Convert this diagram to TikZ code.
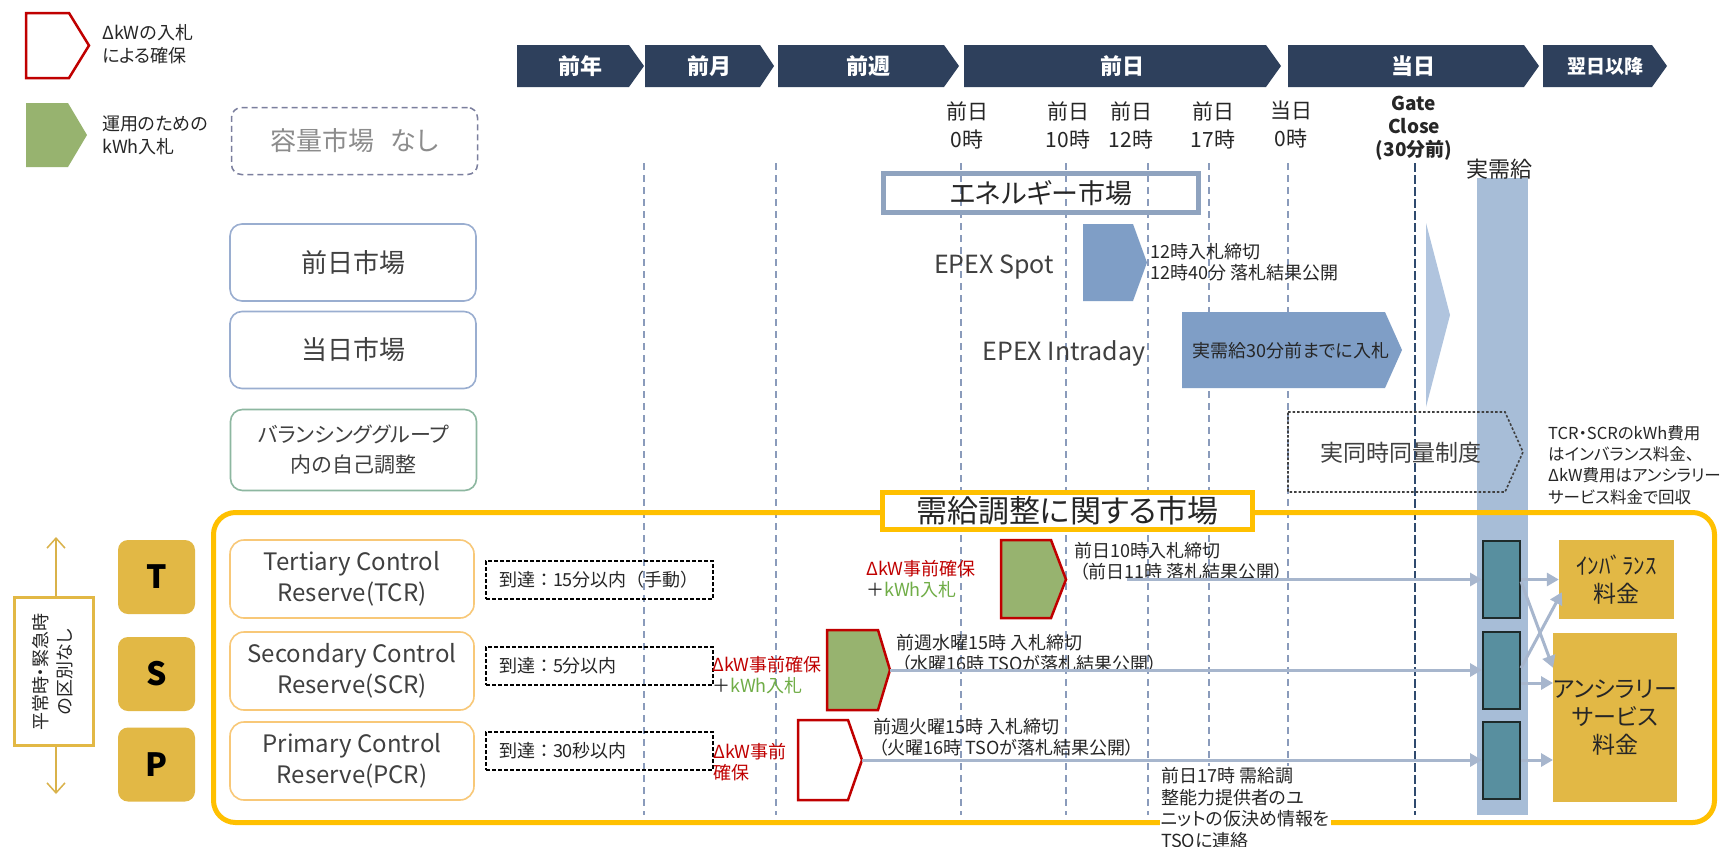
\documentclass[tikz,border=0pt]{standalone}
\usepackage{fontspec}
\setmainfont[RawFeature={+palt}]{Noto Sans CJK JP}
\newfontfamily\fullw{Noto Sans CJK JP}
\usetikzlibrary{arrows.meta,calc}
\definecolor{navy}{RGB}{46,64,92}
\definecolor{vdash}{RGB}{138,155,187}
\definecolor{gatec}{RGB}{47,74,110}
\definecolor{bandc}{RGB}{167,189,215}
\definecolor{enbord}{RGB}{143,163,191}
\definecolor{epexc}{RGB}{127,158,198}
\definecolor{lightarr}{RGB}{176,196,222}
\definecolor{ybig}{RGB}{255,192,0}
\definecolor{gold}{RGB}{226,184,69}
\definecolor{goldln}{RGB}{217,178,74}
\definecolor{tealc}{RGB}{88,143,159}
\definecolor{tealdk}{RGB}{30,43,43}
\definecolor{greenc}{RGB}{151,179,111}
\definecolor{redc}{RGB}{192,0,0}
\definecolor{resvor}{RGB}{248,200,120}
\definecolor{mktblue}{RGB}{154,174,208}
\definecolor{balg}{RGB}{141,183,160}
\definecolor{connc}{RGB}{167,182,205}
\definecolor{kwhgreen}{RGB}{112,173,71}
\definecolor{dashgray}{RGB}{123,127,158}
\definecolor{txtgray}{RGB}{64,64,64}
\definecolor{txtdark}{RGB}{38,38,38}
\definecolor{capgray}{RGB}{140,140,140}
\newcommand\fz[2]{\fontsize{#1pt}{#2pt}\selectfont}
\begin{document}
\begin{tikzpicture}[x=1pt,y=-1pt,
  every node/.style={inner sep=2pt,text=txtdark},
  vline/.style={draw=vdash,line width=1.3pt,dash pattern=on 7pt off 5pt},
  gateline/.style={draw=gatec,line width=2.6pt,dash pattern=on 9pt off 3pt},
  mkt/.style={draw=mktblue,line width=1.6pt,rounded corners=12pt,minimum width=246pt,minimum height=77pt,text=txtgray,font=\fz{26}{30}},
  resv/.style={draw=resvor,line width=1.6pt,rounded corners=14pt,minimum width=244pt,minimum height=78pt,align=center,text=txtgray,font=\fz{24}{31}},
  tsp/.style={fill=gold,rounded corners=10pt,minimum width=77pt,minimum height=74pt,font=\bfseries\fz{32}{34},text=black},
  reach/.style={draw=black,dash pattern=on 4pt off 2pt,line width=1.4pt,minimum width=227pt,minimum height=38pt,text width=201pt,inner xsep=13pt,align=left,font=\fullw\fz{18}{21}},
  tealbox/.style={fill=tealc,draw=tealdk,line width=2pt,minimum width=37pt,minimum height=77pt},
  charge/.style={fill=gold,align=center,font=\fz{23}{28},inner sep=0pt},
  conn/.style={draw=connc,line width=3pt,-{Triangle[length=12pt,width=13pt]}},
  small/.style={font=\fz{18}{21},align=left},
  ]
\useasboundingbox (0,0) rectangle (1720,846);
\fill[white] (0,0) rectangle (1720,846);

% band and vertical lines
\fill[bandc] (1477,178) rectangle (1528,815);
\node[font=\fz{22}{24}] (jjk) at (1499,169) {実需給};
\foreach \x in {644,776,961,1066,1148,1209,1288} \draw[vline] (\x,163) -- (\x,815);
\draw[gateline] (1415,163) -- (1415,815);

% timeline
\foreach \l/\s/\t/\lab/\sz [count=\i] in {517/629/644/前年/22,645/760/774/前月/22,778/944/959/前週/22,964/1266/1281/前日/22,1288/1524/1539/当日/22,1543/1652/1667/翌日以降/19} {
  \fill[navy] (\l,45) -- (\s,45) -- (\t,66) -- (\s,87) -- (\l,87) -- cycle;
  \node[font=\bfseries\fz{\sz}{\sz},text=white] (tl\i) at ({(\l+\t)/2},66) {\lab};
}
\node[font=\fz{21}{28},align=center] (h0) at (967,125) {前日\\0時};
\node[font=\fz{21}{28},align=center] (h10) at (1068,125) {前日\\10時};
\node[font=\fz{21}{28},align=center] (h12) at (1131,125) {前日\\12時};
\node[font=\fz{21}{28},align=center] (h17) at (1213,125) {前日\\17時};
\node[font=\fz{21}{28},align=center] (d0) at (1291,125) {当日\\0時};
\node[font=\bfseries\fz{19}{23},align=center] (gc) at (1414,128) {Gate\\Close\\(30分前)};

% legend
\draw[redc,line width=2.5pt] (26,13) -- (69,13) -- (89,45.5) -- (69,78) -- (26,78) -- cycle;
\fill[greenc] (26,103) -- (68,103) -- (87,135) -- (68,167) -- (26,167) -- cycle;
\node[anchor=west,align=left,font=\fz{18}{23}] (lg1) at (100,44) {ΔkWの入札\\による確保};
\node[anchor=west,align=left,font=\fz{18}{23}] (lg2) at (100,135) {運用のための\\kWh入札};
\node[draw=dashgray,line width=1.5pt,dash pattern=on 6pt off 4pt,rounded corners=10pt,minimum width=246pt,minimum height=67pt,text=capgray,font=\fz{26}{30}] (cap) at (354.5,141) {容量市場\hspace{0.6em}なし};

% left market boxes
\node[mkt] (dam) at (353,262.5) {前日市場};
\node[mkt] (idm) at (353,350) {当日市場};
\node[mkt,draw=balg,minimum height=81pt,align=center,font=\fz{21}{30}] (bg) at (353.5,450) {バランシンググループ\\内の自己調整};

% energy market
\draw[enbord,line width=5pt] (883.5,173.5) rectangle (1198.5,212.5);
\node[font=\fz{27}{30}] (enm) at (1041,193) {エネルギー市場};
\node[font=\fz{25}{28},text=txtgray] (eps) at (994,267) {EPEX Spot};
\fill[epexc] (1083,224) -- (1133,224) -- (1147,262.5) -- (1133,301) -- (1083,301) -- cycle;
\node[small,anchor=west] (epsn) at (1148,262) {12時入札締切\\12時40分 落札結果公開};
\node[font=\fz{25}{28},text=txtgray] (epi) at (1064,353) {EPEX Intraday};
\fill[epexc] (1182,312) -- (1385,312) -- (1402,350) -- (1385,388) -- (1182,388) -- cycle;
\node[font=\fz{18}{21}] (epin) at (1291,351) {実需給30分前までに入札};
\fill[lightarr] (1426,223) -- (1450,315) -- (1426,407) -- cycle;

% simultaneous balancing
\draw[txtgray,line width=1.6pt,dash pattern=on 2.5pt off 2pt] (1288,412) -- (1505,412) -- (1523,452) -- (1505,492) -- (1288,492) -- cycle;
\node[font=\fz{23}{26},text=txtgray] (jdd) at (1401,453) {実同時同量制度};
\node[small,anchor=west,font=\fz{16.5}{21.3}] (note) at (1546,465) {TCR・SCRのkWh費用\\はインバランス料金、\\ΔkW費用はアンシラリー\\サービス料金で回収};

% balancing market frame
\draw[ybig,line width=5pt,rounded corners=22pt] (213.5,512.5) rectangle (1714.5,822.5);
\node[draw=ybig,line width=5pt,fill=white,minimum width=370pt,minimum height=37pt,inner sep=1pt,font=\fz{31}{34}] (jkb) at (1067.5,511) {需給調整に関する市場};

% left double arrow
\coordinate (arTop) at (56,537);
\coordinate (arBot) at (56,794);
\node[draw=gold,line width=3pt,fill=white,minimum width=79pt,minimum height=148pt] (lb) at (54,671.5) {};
\draw[goldln,line width=1.5pt,-{Straight Barb[length=10pt,width=18pt]}] (arTop |- lb.north) -- (arTop);
\draw[goldln,line width=1.5pt,-{Straight Barb[length=10pt,width=18pt]}] (arBot |- lb.south) -- (arBot);
\node[rotate=90,align=center,font=\fz{18}{24}] (lbt) at (53,672) {平常時・緊急時\\の区別なし};

% T S P
\node[tsp] (T) at (156.5,577) {T};
\node[tsp] (S) at (156.5,674) {S};
\node[tsp] (P) at (156.5,764.5) {P};

% reserves
\node[resv] (tcr) at (352,579) {Tertiary Control\\Reserve(TCR)};
\node[resv] (scr) at (352,671) {Secondary Control\\Reserve(SCR)};
\node[resv] (pcr) at (352,761) {Primary Control\\Reserve(PCR)};
\node[reach] (rT) at (599.5,580) {到達：15分以内（手動）};
\node[reach] (rS) at (599.5,666) {到達：5分以内};
\node[reach] (rP) at (599.5,751) {到達：30秒以内};

% markers
\filldraw[fill=greenc,draw=redc,line width=2.5pt] (1001,540) -- (1051,540) -- (1066,579.5) -- (1051,618) -- (1001,618) -- cycle;
\filldraw[fill=greenc,draw=redc,line width=2.5pt] (827,630) -- (878,630) -- (890,670) -- (878,710) -- (827,710) -- cycle;
\filldraw[fill=white,draw=redc,line width=2.5pt] (798,720) -- (848,720) -- (862,760) -- (848,800) -- (798,800) -- cycle;
\coordinate (tcrStart) at (1127,579.5);
\coordinate (scrTip) at (890,670);
\coordinate (pcrTip) at (862,760);

\node[small,anchor=west] (tcrN) at (864,579) {\textcolor{redc}{ΔkW事前確保}\\＋\textcolor{kwhgreen}{kWh入札}};
\node[small,anchor=west] (scrN) at (710,675) {\textcolor{redc}{ΔkW事前確保}\\＋\textcolor{kwhgreen}{kWh入札}};
\node[small,anchor=west,text=redc] (pcrN) at (711,762) {ΔkW事前\\確保};
\node[small,anchor=west] (tcrD) at (1072,561) {前日10時入札締切\\\hspace{0.3em}（前日11時 落札結果公開）};
\node[small,anchor=west] (scrD) at (894,653) {前週水曜15時 入札締切\\\hspace{0.3em}（水曜16時 TSOが落札結果公開）};
\node[small,anchor=west] (pcrD) at (871,737) {前週火曜15時 入札締切\\\hspace{0.3em}（火曜16時 TSOが落札結果公開）};
\node[small,anchor=west,fill=white,inner sep=1pt,font=\fz{18}{21.5}] (d17) at (1160,808) {前日17時 需給調\\整能力提供者のユ\\ニットの仮決め情報を\\TSOに連絡};

% teal and charges
\node[tealbox] (tT) at (1501.5,579.5) {};
\node[tealbox] (tS) at (1501.5,670) {};
\node[tealbox] (tP) at (1501.5,760) {};
\node[charge,minimum width=115pt,minimum height=79pt] (rI) at (1616.5,579.5) {ｲﾝﾊﾞﾗﾝｽ\\料金};
\node[charge,minimum width=116pt,minimum height=169pt] (rA) at (1615,717.5) {アンシラリー\\サービス\\料金};

% connectors
\draw[conn] (tcrStart) -- (tT.west);
\draw[conn] (scrTip) -- (tS.west);
\draw[conn] (pcrTip) -- (tP.west);
\draw[conn] (tT.east) -- (rI.west);
\draw[conn] ($(tT.east)+(0,2)$) -- ($(rA.north west)+(0,35)$);
\draw[conn] ($(tS.east)+(0,-2)$) -- ($(rI.south west)+(3,-27)$);
\coordinate (sLow) at ($(tS.east)+(0,13)$);
\draw[conn] (sLow) -- (sLow -| rA.west);
\draw[conn] (tP.east) -- (tP.east -| rA.west);
\end{tikzpicture}
\end{document}
